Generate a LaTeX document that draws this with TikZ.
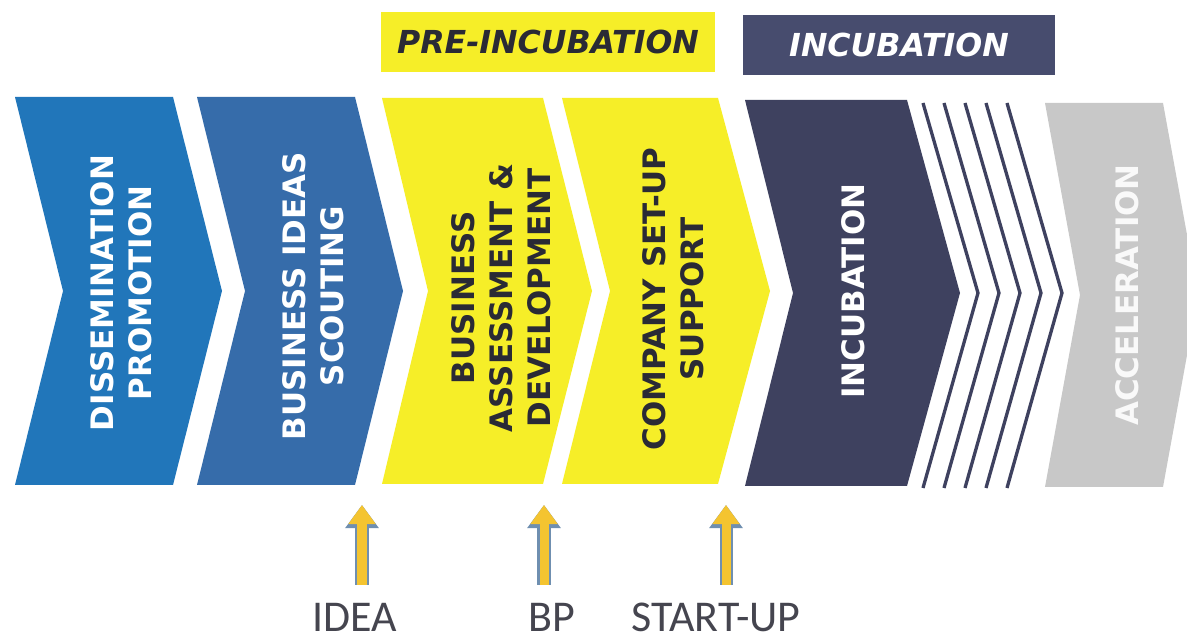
\documentclass[tikz,border=0pt]{standalone}
\usepackage{fontspec}
\setmainfont{DejaVu Sans}
\newfontfamily\labelfont{Carlito}
\usetikzlibrary{arrows.meta}

\definecolor{stepblue}{HTML}{2176BA}
\definecolor{scoutblue}{HTML}{366CAA}
\definecolor{preyellow}{HTML}{F6EE28}
\definecolor{incnavy}{HTML}{3E415F}
\definecolor{headnavy}{HTML}{474C6E}
\definecolor{accgray}{HTML}{C8C8C8}
\definecolor{darktext}{HTML}{2A2A35}
\definecolor{labelgray}{HTML}{45454F}
\definecolor{arrowgold}{HTML}{F4C430}
\definecolor{arrowedge}{HTML}{6F8FB0}

\tikzset{
	steptext/.style={rotate=90, align=center, font=\bfseries\fontsize{8.8}{10.8}\selectfont},
	headbox/.style={minimum width=3.2cm, minimum height=0.59cm, font=\bfseries\itshape\fontsize{9}{11}\selectfont},
	milestone/.style={anchor=base, text=labelgray, font=\labelfont\fontsize{12.5}{14}\selectfont},
	uparrow/.style={draw=arrowgold, line width=0.09cm, -{Triangle[width=0.26cm, length=0.19cm]},
		preaction={draw=arrowedge, line width=0.13cm, -{Triangle[width=0.32cm, length=0.23cm]}}},
	stripe/.style={draw=incnavy, line width=0.033cm}
}

\begin{document}
\begin{tikzpicture}[x=0.01cm, y=-0.01cm]
	\useasboundingbox (0, 0) rectangle (1187, 643);
	\fill[white] (0, 0) rectangle (1187, 643);

	\node[headbox, fill=preyellow, text=darktext, minimum width=3.33cm] (preinc) at (548, 42) {PRE-INCUBATION};
	\node[headbox, fill=headnavy, text=white, minimum width=3.12cm] (inc) at (899, 45) {INCUBATION};

	\fill[stepblue] (15, 97) -- (173, 97) -- (222, 291) -- (173, 485) -- (15, 485) -- (63, 291) -- cycle;
	\fill[scoutblue] (197, 97) -- (355, 97) -- (403, 291) -- (355, 485) -- (197, 485) -- (245, 291) -- cycle;
	\fill[preyellow] (382, 98) -- (543, 98) -- (592, 291) -- (543, 484) -- (382, 484) -- (428, 291) -- cycle;
	\fill[preyellow] (562, 98) -- (718, 98) -- (770, 291) -- (718, 484) -- (562, 484) -- (610, 291) -- cycle;
	\fill[incnavy] (745, 100) -- (907, 100) -- (960, 293) -- (907, 486) -- (745, 486) -- (793, 293) -- cycle;
	\fill[accgray] (1045, 103) -- (1163, 103) -- (1198, 295) -- (1163, 487) -- (1045, 487) -- (1080, 295) -- cycle;

	\draw[stripe] (923, 103) -- (978, 293) -- (923, 488);
	\draw[stripe] (944, 103) -- (999, 293) -- (944, 488);
	\draw[stripe] (965, 103) -- (1020, 293) -- (965, 488);
	\draw[stripe] (986, 103) -- (1041, 293) -- (986, 488);
	\draw[stripe] (1007, 103) -- (1062, 293) -- (1007, 488);

	\node[steptext, text=white] (dissem) at (121, 293) {DISSEMINATION\\PROMOTION};
	\node[steptext, text=white] (scout) at (313, 296) {BUSINESS IDEAS\\SCOUTING};
	\node[steptext, text=darktext] (assess) at (501, 298) {BUSINESS\\ASSESSMENT \&\\DEVELOPMENT};
	\node[steptext, text=darktext] (setup) at (673, 299) {COMPANY SET-UP\\SUPPORT};
	\node[steptext, text=white] (incub) at (853, 291) {INCUBATION};
	\node[steptext, text=white!90!accgray] (accel) at (1127, 295) {ACCELERATION};

	\node[milestone] (idea) at (355, 632) {IDEA};
	\node[milestone] (bp) at (552, 632) {BP};
	\node[milestone] (startup) at (716, 632) {START-UP};

	\coordinate (ideafoot) at (362, 585);
	\coordinate (ideahead) at (362, 505);
	\coordinate (bpfoot) at (544, 585);
	\coordinate (bphead) at (544, 505);
	\coordinate (startfoot) at (726, 585);
	\coordinate (starthead) at (726, 505);

	\draw[uparrow] (ideafoot) -- (ideahead);
	\draw[uparrow] (bpfoot) -- (bphead);
	\draw[uparrow] (startfoot) -- (starthead);

\end{tikzpicture}
\end{document}
